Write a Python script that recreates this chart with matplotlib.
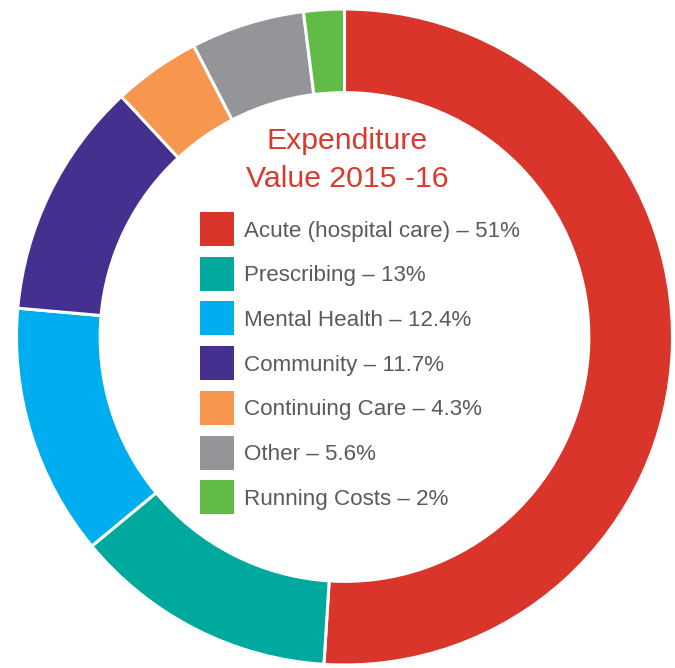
import matplotlib
matplotlib.use("Agg")
import matplotlib.pyplot as plt
from matplotlib.patches import Rectangle

categories = ["Acute (hospital care)", "Prescribing", "Mental Health", "Community",
              "Continuing Care", "Other", "Running Costs"]
values = [51, 13, 12.4, 11.7, 4.3, 5.6, 2]
labels = ["51%", "13%", "12.4%", "11.7%", "4.3%", "5.6%", "2%"]
colors = ["#D9352A", "#00A99D", "#00AEEF", "#46308F", "#F7964E", "#939598", "#62BB46"]
title_lines = ["Expenditure", "Value 2015 -16"]

W, H = 675, 668
fig = plt.figure(figsize=(W / 100, H / 100), dpi=100)
ax = fig.add_axes([0, 0, 1, 1])

cx, cy, R = 344.5, H - 337, 328
ax.pie(values, colors=colors, startangle=90, counterclock=False,
       center=(cx, cy), radius=R, frame=True,
       wedgeprops=dict(width=R * 0.255, edgecolor="white", linewidth=2.2))
ax.set_xlim(0, W)
ax.set_ylim(0, H)
ax.set_aspect("auto")
ax.axis("off")

font = dict(family=["Liberation Sans", "DejaVu Sans"], fontweight="normal")
ax.text(347, H - 141, title_lines[0], color="#DA3A2E", fontsize=21.8, ha="center", va="center", **font)
ax.text(347, H - 179, title_lines[1], color="#DA3A2E", fontsize=21.8, ha="center", va="center", **font)

y0 = 212
step = 44.7
sq = 34
for i, (c, v, col) in enumerate(zip(categories, labels, colors)):
    top = y0 + i * step
    ax.add_patch(Rectangle((200, H - top - sq), sq, sq, facecolor=col, edgecolor="none"))
    ax.text(244, H - top - sq / 2 - 2, f"{c} \u2013 {v}", color="#5a5a5a", fontsize=16.1,
            ha="left", va="center", **font)

fig.savefig("out.png", dpi=100)
